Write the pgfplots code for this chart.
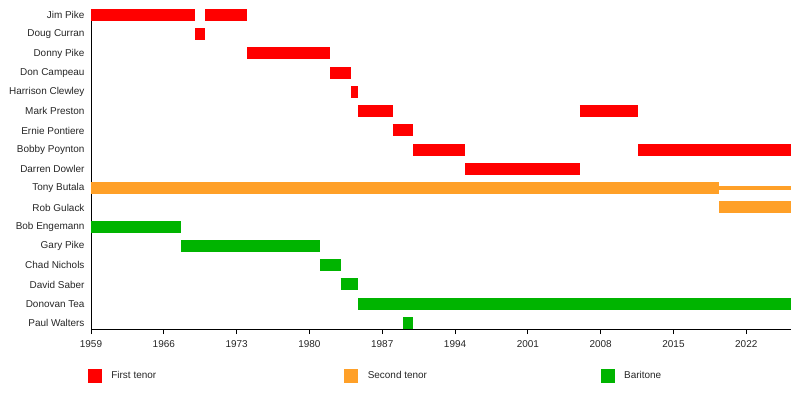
\documentclass[border=0pt]{standalone}
\usepackage{pgfplots}
\usepackage{pgfplotstable}
\pgfplotsset{compat=1.18}
\usepackage{fontspec}
\setmainfont{Liberation Sans}
\definecolor{ftenor}{RGB}{255,0,0}
\definecolor{stenor}{RGB}{255,160,40}
\definecolor{bari}{RGB}{0,180,0}

% start/end per row, nan rows separate bars
\pgfplotstableread{
x y
1959 16
1969 16
nan nan
1970 16
1974 16
nan nan
1969 15
1970 15
nan nan
1974 14
1982 14
nan nan
1982 13
1984 13
nan nan
1984 12
1984.7 12
nan nan
1984.7 11
1988 11
nan nan
2006 11
2011.6 11
nan nan
1988 10
1990 10
nan nan
1990 9
1995 9
nan nan
2011.6 9
2026.3 9
nan nan
1995 8
2006 8
}\firsttenor

\pgfplotstableread{
x y
1959 7
2019.4 7
nan nan
2019.4 6
2026.3 6
}\secondtenor

\pgfplotstableread{
x y
2019.4 7
2026.3 7
}\secondtenorthin

\pgfplotstableread{
x y
1959 5
1967.7 5
nan nan
1967.7 4
1981 4
nan nan
1981 3
1983 3
nan nan
1983 2
1984.7 2
nan nan
1984.7 1
2026.3 1
nan nan
1989 0
1990 0
}\baritone

\begin{document}
\begin{tikzpicture}
\begin{axis}[
  at={(0,0)}, anchor=south west,
  scale only axis,
  width=700bp, height=320bp,
  xmin=1959, xmax=2026.3,
  ymin=-0.3117, ymax=16.3117,
  clip=false,
  axis x line*=bottom,
  axis y line*=left,
  axis line style={black, line width=0.8bp},
  xtick={1959,1966,...,2022},
  minor x tick num=6,
  tick align=outside,
  major tick length=5bp,
  minor tick length=3bp,
  tick style={black, line width=0.8bp},
  ytick={0,...,16},
  yticklabels={Paul Walters,Donovan Tea,David Saber,Chad Nichols,Gary Pike,Bob Engemann,Rob Gulack,Tony Butala,Darren Dowler,Bobby Poynton,Ernie Pontiere,Mark Preston,Harrison Clewley,Don Campeau,Donny Pike,Doug Curran,Jim Pike},
  ytick style={draw=none},
  yticklabel style={font=\fontsize{10}{12}\selectfont, xshift=2bp, text=black!85},
  xticklabel style={font=\fontsize{10}{12}\selectfont, yshift=-3bp, text=black!85},
  /pgf/number format/assume math mode=true,
  xticklabel={\pgfmathprintnumber[1000 sep={}]{\tick}},
  unbounded coords=jump,
  legend columns=3,
  legend style={draw=none, fill=none, font=\fontsize{10}{12}\selectfont, text=black!85,
    at={(axis description cs:-0.0043,-0.126)}, anchor=north west,
    inner sep=0pt, outer sep=0pt,
    /tikz/every even column/.append style={column sep=0bp}},
  legend cell align=left,
  legend image code/.code={\fill[#1] (0bp,-6.5bp) rectangle (13bp,6.5bp);},
]
\addplot[ftenor, line width=12bp, no marks, forget plot] table[x=x,y=y] {\firsttenor};
\addplot[stenor, line width=12bp, no marks, forget plot] table[x=x,y=y] {\secondtenor};
\addplot[stenor, line width=4bp, no marks, forget plot] table[x=x,y=y] {\secondtenorthin};
\addplot[bari, line width=12bp, no marks, forget plot] table[x=x,y=y] {\baritone};
\addlegendimage{ftenor}
\addlegendentry{\makebox[239bp][l]{\hspace{8bp}First tenor}}
\addlegendimage{stenor}
\addlegendentry{\makebox[239bp][l]{\hspace{8bp}Second tenor}}
\addlegendimage{bari}
\addlegendentry{\makebox[100bp][l]{\hspace{8bp}Baritone}}
\end{axis}
\pgfresetboundingbox
\path[use as bounding box] (-91bp,-79bp) rectangle (709bp,329bp);
\end{tikzpicture}
\end{document}
